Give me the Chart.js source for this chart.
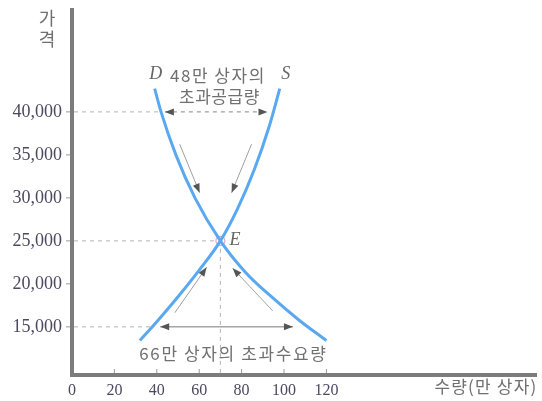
<!DOCTYPE html>
<html><head><meta charset="utf-8">
<script src="https://cdn.jsdelivr.net/npm/chart.js@4"></script>
<style>html,body{margin:0;padding:0;background:#fff}canvas{display:block}</style>
</head><body>
<canvas id="c" width="542" height="401"></canvas>
<script>
const quantityTicks = [0, 20, 40, 60, 80, 100, 120];
const priceTicks = [15000, 20000, 25000, 30000, 35000, 40000];
const demandQty = [39, 42, 49, 58, 70, 82, 95, 107, 120];
const demandPrice = [42700, 40000, 35000, 30000, 25000, 21300, 18300, 15800, 13400];
const supplyQty = [32, 40, 50, 60, 70, 78, 86, 93, 98];
const supplyPrice = [13400, 15600, 18500, 21600, 25000, 28700, 33300, 38300, 42700];
const equilibrium = { q: 70, p: 25000 };
const excessSupply = { p: 40000, from: 43.8, to: 92.2, label1: '48만 상자의', label2: '초과공급량' };
const excessDemand = { p: 15000, from: 41.6, to: 104.2, label: '66만 상자의 초과수요량' };
const adjustArrows = [
  [50.8, 36244, 60.2, 30610],
  [84.7, 36244, 75.3, 30610],
  [48.5, 16643, 63.5, 21925],
  [94.6, 16878, 75.8, 21808]
];
const xTitle = '수량(만 상자)';
const yTitle = ['가', '격'];

const KR = '"Noto Sans CJK KR", sans-serif';
const SERIF = '"Liberation Serif", "DejaVu Serif", serif';

function head(ctx, x1, y1, x2, y2, len, w) {
  const a = Math.atan2(y2 - y1, x2 - x1);
  ctx.beginPath();
  ctx.moveTo(x2, y2);
  ctx.lineTo(x2 - len * Math.cos(a) + w * Math.sin(a), y2 - len * Math.sin(a) - w * Math.cos(a));
  ctx.lineTo(x2 - len * Math.cos(a) - w * Math.sin(a), y2 - len * Math.sin(a) + w * Math.cos(a));
  ctx.closePath();
  ctx.fill();
}

function spacedText(ctx, text, cx, cy, spacing) {
  // draw centred text with extra letter spacing
  const chars = Array.from(text);
  const widths = chars.map(c => ctx.measureText(c).width);
  const total = widths.reduce((a, b) => a + b, 0) + spacing * (chars.length - 1);
  let x = cx - total / 2;
  const prevAlign = ctx.textAlign;
  ctx.textAlign = 'left';
  chars.forEach((c, i) => { ctx.fillText(c, x, cy); x += widths[i] + spacing; });
  ctx.textAlign = prevAlign;
  return total;
}

const guides = {
  id: 'guides',
  beforeDatasetsDraw(chart) {
    const xs = chart.scales.x, ys = chart.scales.y, ctx = chart.ctx, ca = chart.chartArea;
    const X = v => xs.getPixelForValue(v), Y = v => ys.getPixelForValue(v);
    ctx.save();
    ctx.strokeStyle = '#9a9a9a';
    ctx.lineWidth = 1;
    quantityTicks.slice(1).forEach(q => { ctx.beginPath(); ctx.moveTo(X(q), ca.bottom - 2); ctx.lineTo(X(q), ca.bottom - 6); ctx.stroke(); });
    priceTicks.forEach(p => { ctx.beginPath(); ctx.moveTo(ca.left - 2, Y(p)); ctx.lineTo(ca.left - 6, Y(p)); ctx.stroke(); });
    ctx.strokeStyle = '#b4b4b4';
    ctx.setLineDash([4, 4]);
    const hl = (p, q) => { ctx.beginPath(); ctx.moveTo(ca.left + 2, Y(p)); ctx.lineTo(X(q), Y(p)); ctx.stroke(); };
    hl(excessSupply.p, demandQty[1]);
    hl(equilibrium.p, equilibrium.q);
    hl(excessDemand.p, supplyQty[1] - 2);
    ctx.beginPath(); ctx.moveTo(X(equilibrium.q), Y(equilibrium.p)); ctx.lineTo(X(equilibrium.q), ca.bottom - 2); ctx.stroke();
    ctx.strokeStyle = '#888';
    ctx.beginPath(); ctx.moveTo(X(excessSupply.from), Y(excessSupply.p)); ctx.lineTo(X(excessSupply.to), Y(excessSupply.p)); ctx.stroke();
    ctx.setLineDash([]);
    ctx.strokeStyle = '#777';
    ctx.beginPath(); ctx.moveTo(X(excessDemand.from), Y(excessDemand.p)); ctx.lineTo(X(excessDemand.to), Y(excessDemand.p)); ctx.stroke();
    ctx.fillStyle = '#555';
    [excessSupply, excessDemand].forEach(a => {
      const y = Y(a.p), x1 = X(a.from), x2 = X(a.to);
      head(ctx, x2, y, x1, y, 9, 3.5);
      head(ctx, x1, y, x2, y, 9, 3.5);
    });
    ctx.strokeStyle = '#a0a0a0';
    adjustArrows.forEach(a => {
      const x1 = X(a[0]), y1 = Y(a[1]), x2 = X(a[2]), y2 = Y(a[3]);
      ctx.beginPath(); ctx.moveTo(x1, y1); ctx.lineTo(x2, y2); ctx.stroke();
      head(ctx, x1, y1, x2, y2, 9, 3.5);
    });
    ctx.restore();
  },
  afterDatasetsDraw(chart) {
    const xs = chart.scales.x, ys = chart.scales.y, ctx = chart.ctx, ca = chart.chartArea;
    const X = v => xs.getPixelForValue(v), Y = v => ys.getPixelForValue(v);
    ctx.save();
    ctx.textBaseline = 'middle';
    ctx.fillStyle = '#666';
    ctx.font = 'italic 18px ' + SERIF;
    ctx.textAlign = 'center';
    ctx.fillText('D', X(demandQty[0]) + 1, Y(demandPrice[0]) - 14);
    ctx.fillText('S', X(supplyQty[supplyQty.length - 1]) + 6, Y(supplyPrice[supplyPrice.length - 1]) - 14);
    ctx.textAlign = 'left';
    ctx.fillText('E', X(equilibrium.q) + 9, Y(equilibrium.p) - 1);
    ctx.fillStyle = '#707070';
    ctx.font = '17px ' + KR;
    const mid = X((excessSupply.from + excessSupply.to) / 2) + 1;
    spacedText(ctx, excessSupply.label1, mid, Y(demandPrice[0]) - 13, 1.5);
    spacedText(ctx, excessSupply.label2, mid + 2, Y(demandPrice[0]) + 8, 0.5);
    spacedText(ctx, excessDemand.label, X((excessDemand.from + excessDemand.to) / 2) + 6, Y(excessDemand.p) + 27, 1.6);
    ctx.font = '17px ' + KR;
    const w = spacedText(ctx, xTitle, 0, -100, 1.2);
    spacedText(ctx, xTitle, ca.right - w / 2, ca.bottom + 12, 1.2);
    ctx.font = '18px ' + KR;
    ctx.textAlign = 'center';
    ctx.fillText(yTitle[0], ca.left - 25, ca.top + 8);
    ctx.fillText(yTitle[1], ca.left - 25, ca.top + 29);
    ctx.restore();
  }
};

new Chart(document.getElementById('c'), {
  type: 'scatter',
  data: {
    datasets: [
      { label: 'D', data: demandQty.map((q, i) => ({ x: q, y: demandPrice[i] })), showLine: true,
        borderColor: '#5aa9f0', borderWidth: 3, pointRadius: 0, cubicInterpolationMode: 'monotone' },
      { label: 'S', data: supplyQty.map((q, i) => ({ x: q, y: supplyPrice[i] })), showLine: true,
        borderColor: '#5aa9f0', borderWidth: 3, pointRadius: 0, cubicInterpolationMode: 'monotone' },
      { label: 'E', data: [{ x: equilibrium.q, y: equilibrium.p }], pointRadius: 4.5,
        backgroundColor: '#ffffff', borderColor: '#d9a6cf', borderWidth: 1.2 }
    ]
  },
  options: {
    responsive: false,
    animation: false,
    layout: { padding: { top: 10, right: 5, left: 0, bottom: 0 } },
    plugins: { legend: { display: false }, tooltip: { enabled: false } },
    scales: {
      x: {
        type: 'linear', min: 0, max: 219,
        afterBuildTicks: s => { s.ticks = quantityTicks.map(v => ({ value: v })); },
        afterFit: s => { s.height = 26; s.paddingLeft = 0; s.paddingRight = 0; },
        grid: { display: false, drawTicks: false },
        border: { display: true, color: '#7c7c7c', width: 4 },
        ticks: { padding: 6, color: '#4d4860', font: { family: SERIF, size: 16 }, maxRotation: 0 }
      },
      y: {
        type: 'linear', min: 9400, max: 51850,
        afterBuildTicks: s => { s.ticks = priceTicks.map(v => ({ value: v })); },
        afterFit: s => { s.width = 72; s.paddingTop = 0; s.paddingBottom = 0; },
        grid: { display: false, drawTicks: false },
        border: { display: true, color: '#7c7c7c', width: 4 },
        ticks: { padding: 10, color: '#4d4860', font: { family: SERIF, size: 18 },
          callback: v => v.toLocaleString('en-US') }
      }
    }
  },
  plugins: [guides]
});
</script>
</body></html>
